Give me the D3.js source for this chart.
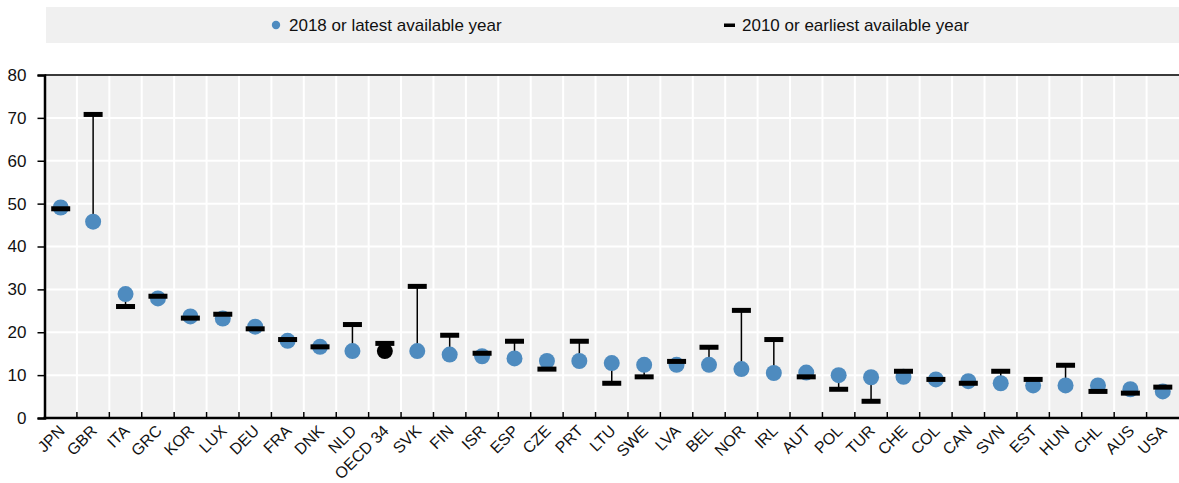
<!DOCTYPE html>
<html>
<head>
<meta charset="utf-8">
<script src="https://cdn.jsdelivr.net/npm/d3@7"></script>
<style>
  html, body { margin: 0; padding: 0; background: #fff; }
  svg { display: block; font-family: "Liberation Sans Narrow", "Arial Narrow", "Liberation Sans", Arial, sans-serif; }
</style>
</head>
<body>
<svg id="chart" width="1179" height="483"></svg>
<script>
const categories = ["JPN","GBR","ITA","GRC","KOR","LUX","DEU","FRA","DNK","NLD","OECD 34","SVK","FIN","ISR","ESP","CZE","PRT","LTU","SWE","LVA","BEL","NOR","IRL","AUT","POL","TUR","CHE","COL","CAN","SVN","EST","HUN","CHL","AUS","USA"];
const latest = [49.1,45.8,28.9,27.9,23.7,23.2,21.3,18.0,16.6,15.6,15.6,15.6,14.8,14.4,13.9,13.3,13.3,12.8,12.4,12.4,12.4,11.4,10.5,10.6,10.0,9.5,9.6,9.0,8.6,8.1,7.6,7.6,7.6,6.7,6.2];
const earliest = [48.8,70.8,26.0,28.4,23.3,24.2,20.8,18.3,16.6,21.8,17.4,30.7,19.3,15.1,17.9,11.4,17.9,8.1,9.6,13.2,16.5,25.1,18.3,9.6,6.7,3.9,10.9,9.0,8.1,10.9,9.0,12.3,6.2,5.8,7.2];
const yTicks = [0,10,20,30,40,50,60,70,80];
const legendLabels = ["2018 or latest available year","2010 or earliest available year"];
const highlight = "OECD 34";

const svg = d3.select("#chart");
const margin = {left: 44.5, right: 0, top: 75, bottom: 65};
const W = 1179, H = 483;
const FS = 17;
const x = d3.scaleBand().domain(categories).range([margin.left, W - margin.right]).padding(0);
const y = d3.scaleLinear().domain([0, 80]).range([H - margin.bottom, margin.top]);

const blue = "#4e8bbf";

// legend
svg.append("rect").attr("x", 46).attr("y", 7).attr("width", W - 46).attr("height", 36).attr("fill", "#f0f0f0");
const lg = svg.append("g");
lg.append("circle").attr("cx", 276).attr("cy", 25).attr("r", 4.2).attr("fill", blue);
lg.append("text").attr("x", 289).attr("y", 25).attr("dy", "0.35em").attr("font-size", FS).attr("fill", "#111").text(legendLabels[0]);
lg.append("rect").attr("x", 724).attr("y", 23.5).attr("width", 11).attr("height", 3.5).attr("fill", "#000");
lg.append("text").attr("x", 742).attr("y", 25).attr("dy", "0.35em").attr("font-size", FS).attr("fill", "#111").text(legendLabels[1]);

// plot background
svg.append("rect").attr("x", margin.left).attr("y", margin.top).attr("width", W - margin.right - margin.left).attr("height", y(0) - margin.top).attr("fill", "#f0f0f0");

// gridlines
svg.append("g").selectAll("line").data(yTicks.filter(d => d > 0 && d < 80)).join("line")
  .attr("x1", margin.left).attr("x2", W - margin.right)
  .attr("y1", d => y(d)).attr("y2", d => y(d))
  .attr("stroke", "#fff").attr("stroke-width", 2);
svg.append("g").selectAll("line").data(categories.slice(1)).join("line")
  .attr("x1", d => x(d)).attr("x2", d => x(d))
  .attr("y1", margin.top).attr("y2", y(0))
  .attr("stroke", "#fff").attr("stroke-width", 2);

// top line
svg.append("line").attr("x1", margin.left).attr("x2", W).attr("y1", y(80)).attr("y2", y(80)).attr("stroke", "#3a3a3a").attr("stroke-width", 2);

// y axis
const yAxis = d3.axisLeft(y).tickValues(yTicks).tickSize(7).tickPadding(11).tickFormat(d3.format("d"));
const gy = svg.append("g").attr("transform", `translate(${margin.left},0)`).call(yAxis);
gy.select(".domain").attr("stroke", "#000").attr("stroke-width", 2.5);
gy.selectAll(".tick line").attr("stroke", "#000").attr("stroke-width", 1.5);
gy.selectAll(".tick text").attr("font-size", FS).attr("fill", "#111").attr("font-family", null);

// x axis
const gx = svg.append("g").attr("transform", `translate(0,${y(0)})`);
gx.append("line").attr("x1", margin.left - 1).attr("x2", W).attr("y1", 0).attr("y2", 0).attr("stroke", "#000").attr("stroke-width", 2.5);
gx.selectAll("line.tk").data(categories.slice(1)).join("line").attr("class", "tk")
  .attr("x1", d => x(d)).attr("x2", d => x(d)).attr("y1", 0).attr("y2", -6)
  .attr("stroke", "#000").attr("stroke-width", 1.5);
gx.selectAll("text").data(categories).join("text")
  .attr("transform", d => `translate(${x(d) + x.bandwidth() / 2 - 3},${6}) rotate(-45)`)
  .attr("text-anchor", "end").attr("dy", "0.7em")
  .attr("font-size", 16).attr("fill", "#111").text(d => d);

// marks
const data = categories.map((c, i) => ({c, a: latest[i], b: earliest[i]}));
const cx = d => x(d.c) + x.bandwidth() / 2;
svg.append("g").selectAll("line").data(data).join("line")
  .attr("x1", cx).attr("x2", cx).attr("y1", d => y(d.a)).attr("y2", d => y(d.b))
  .attr("stroke", "#000").attr("stroke-width", 1.5);
svg.append("g").selectAll("circle").data(data).join("circle")
  .attr("cx", cx).attr("cy", d => y(d.a)).attr("r", 8)
  .attr("fill", d => d.c === highlight ? "#000" : blue);
svg.append("g").selectAll("rect").data(data).join("rect")
  .attr("x", d => cx(d) - 9.5).attr("y", d => y(d.b) - 2.5).attr("width", 19).attr("height", 5)
  .attr("fill", "#000");
</script>
</body>
</html>
